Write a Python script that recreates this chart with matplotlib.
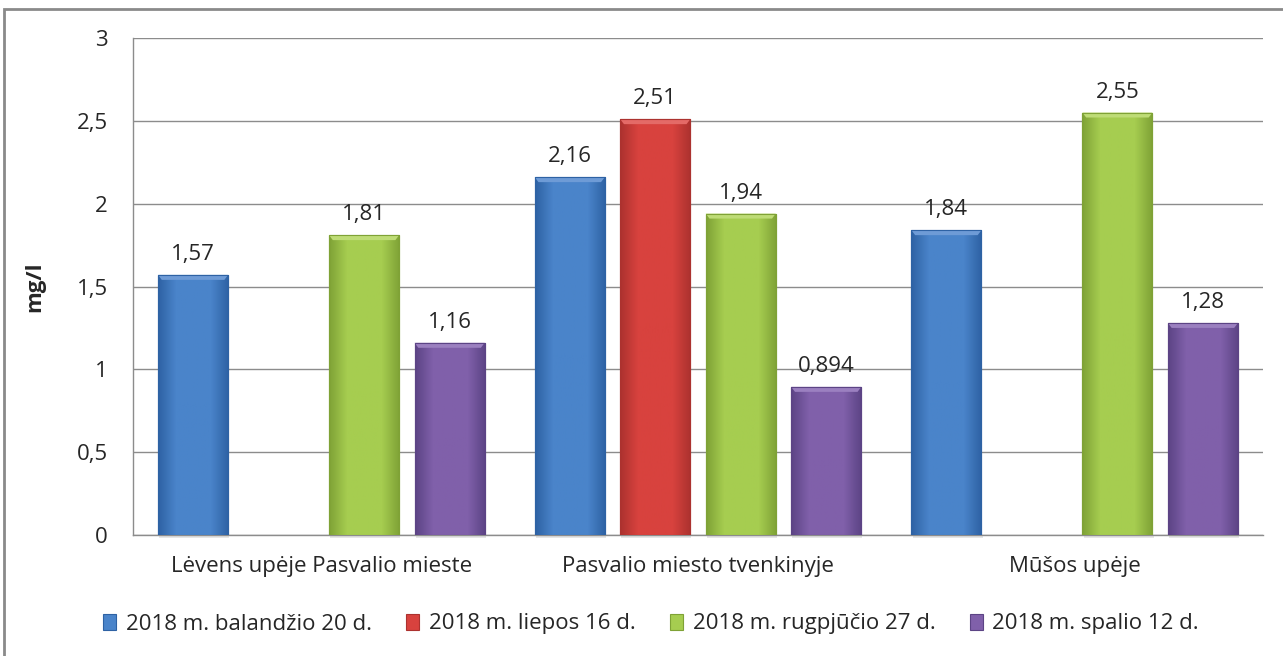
import numpy as np
import matplotlib
matplotlib.use("Agg")
import matplotlib.pyplot as plt
from matplotlib.colors import LinearSegmentedColormap
from matplotlib.patches import Rectangle, Polygon
from matplotlib.ticker import FuncFormatter

# duomenys
categories = ["Lėvens upėje Pasvalio mieste", "Pasvalio miesto tvenkinyje", "Mūšos upėje"]
series_names = ["2018 m. balandžio 20 d.", "2018 m. liepos 16 d.",
                "2018 m. rugpjūčio 27 d.", "2018 m. spalio 12 d."]
balandzio = [1.57, 2.16, 1.84]
liepos = [np.nan, 2.51, np.nan]
rugpjucio = [1.81, 1.94, 2.55]
spalio = [1.16, 0.894, 1.28]
values = [balandzio, liepos, rugpjucio, spalio]

# spalvos: (krastas, vidurys, virsus)
colors = [("#2E62A4", "#4A84CA", "#6E9BD6"),
          ("#AC322F", "#D8423E", "#E46A67"),
          ("#7FA236", "#A6CD50", "#BEDC76"),
          ("#5C4485", "#8060AA", "#9B80C0")]

plt.rcParams["font.family"] = ["Open Sans", "DejaVu Sans"]
FS = 16
TXT = "#262626"

fig = plt.figure(figsize=(12.83, 6.56), dpi=100)
ax = fig.add_axes([133/1283, 1 - 535/656, 1130/1283, 497/656])

def fmt(v):
    s = f"{v:g}"
    return s.replace(".", ",")

x = np.arange(len(categories))
width = 0.186
step = 0.227
handles = []
for i, (name, vals, (c_edge, c_mid, c_top)) in enumerate(zip(series_names, values, colors)):
    cmap = LinearSegmentedColormap.from_list(f"g{i}", [c_edge, c_mid, c_mid, c_mid, c_edge])
    bars = ax.bar(x + (i - 1.5) * step, vals, width, color=c_mid, edgecolor=c_edge,
                  linewidth=0.8, zorder=3)
    for b, v in zip(bars, vals):
        if np.isnan(v):
            continue
        x0, w, h = b.get_x(), b.get_width(), b.get_height()
        # seselis
        ax.add_patch(Rectangle((x0 + 0.003, -0.02), w, 0.02, color="#e6e6e6", zorder=2,
                               clip_on=False, linewidth=0))
        grad = np.linspace(0, 1, 64).reshape(1, -1)
        im = ax.imshow(grad, cmap=cmap, aspect="auto", extent=(x0, x0 + w, 0, h), zorder=3.5)
        im.set_clip_path(b)
        dx, dy = 0.01, 0.03
        ax.add_patch(Polygon([(x0, h), (x0 + w, h), (x0 + w - dx, h - dy), (x0 + dx, h - dy)],
                             closed=True, color=c_top, zorder=4, linewidth=0))
        ax.add_patch(Rectangle((x0, 0), w, h, fill=False, edgecolor=c_edge, linewidth=0.8,
                               zorder=4.5))
        ax.text(b.get_x() + w / 2, h + 0.06, fmt(v), ha="center", va="bottom",
                fontsize=FS, color=TXT, zorder=5)
    handles.append(Rectangle((0, 0), 1, 1, facecolor=c_mid, edgecolor=c_edge, linewidth=0.8))

ax.set_xlim(-0.5, len(categories) - 0.5)
ax.set_ylim(0, 3)
ax.set_yticks(np.arange(0, 3.01, 0.5))
ax.yaxis.set_major_formatter(FuncFormatter(lambda v, p: fmt(v)))
ax.set_xticks(x)
ax.set_xticklabels(categories)
ax.tick_params(axis="both", length=0, labelsize=FS, colors=TXT)
ax.tick_params(axis="y", pad=18)
ax.tick_params(axis="x", pad=15)
ax.grid(axis="y", color="#8c8c8c", linewidth=1, zorder=0)
ax.set_axisbelow(True)
for s in ["top", "right"]:
    ax.spines[s].set_visible(False)
for s in ["left", "bottom"]:
    ax.spines[s].set_color("#8c8c8c")
    ax.spines[s].set_linewidth(1)
ax.set_ylabel("mg/l", fontsize=FS, fontweight="bold", color=TXT)
ax.yaxis.set_label_coords(-88 / 1130, 0.5)

fig.legend(handles, series_names, loc="center", bbox_to_anchor=(651/1283, 1 - 624/656), ncol=4,
           frameon=False, fontsize=FS, handlelength=0.6, handleheight=0.7,
           handletextpad=0.42, columnspacing=1.55, labelcolor=TXT)

# remelis aplink visa grafika
fig.add_artist(Rectangle((4/1283, -0.1), 1.2, 1 - 9/656 + 0.1, transform=fig.transFigure,
                         fill=False, edgecolor="#8a8a8a", linewidth=2, clip_on=False))

fig.savefig("out.png", dpi=100)
